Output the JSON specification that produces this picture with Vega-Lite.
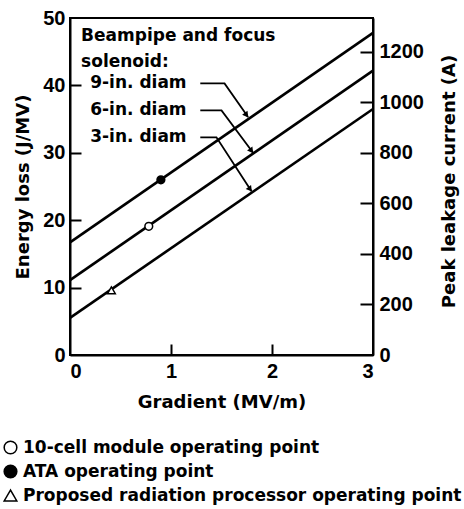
{
  "$schema": "https://vega.github.io/schema/vega-lite/v6.json",
  "width": 303,
  "height": 337,
  "autosize": {"type": "none"},
  "padding": {"left": 70, "top": 18, "right": 91, "bottom": 154},
  "background": "white",
  "config": {
    "view": {"stroke": "black", "strokeWidth": 2},
    "font": "DejaVu Sans",
    "axis": {
      "domainColor": "black", "domainWidth": 2, "tickColor": "black", "tickWidth": 2,
      "grid": false, "labelColor": "black", "titleColor": "black",
      "labelFont": "Liberation Sans", "labelFontSize": 20, "labelFontWeight": "bold",
      "titleFont": "DejaVu Sans", "titleFontSize": 18, "titleFontWeight": "bold"
    },
    "legend": {
      "orient": "none", "legendX": -68, "legendY": 421,
      "labelFont": "DejaVu Sans", "labelFontSize": 17, "labelFontWeight": "bold", "labelColor": "black",
      "symbolSize": 160, "symbolStrokeColor": "black", "symbolStrokeWidth": 1.5,
      "rowPadding": 5, "labelLimit": 0, "labelOffset": 4
    }
  },
  "datasets": {
    "lines": [
      {"diam": "9-in.", "gradient": 0, "energy": 16.7},
      {"diam": "9-in.", "gradient": 3, "energy": 47.8},
      {"diam": "6-in.", "gradient": 0, "energy": 11.1},
      {"diam": "6-in.", "gradient": 3, "energy": 42.2},
      {"diam": "3-in.", "gradient": 0, "energy": 5.5},
      {"diam": "3-in.", "gradient": 3, "energy": 36.5}
    ],
    "points": [
      {"type": "10-cell module operating point", "gradient": 0.78, "energy": 19.1},
      {"type": "ATA operating point", "gradient": 0.9, "energy": 26.0},
      {"type": "Proposed radiation processor operating point", "gradient": 0.41, "energy": 9.6}
    ],
    "labels": [
      {"text": "Beampipe and focus", "gradient": 0.11, "energy": 47.4},
      {"text": "solenoid:", "gradient": 0.11, "energy": 43.5},
      {"text": "9-in. diam", "gradient": 0.2, "energy": 40.3},
      {"text": "6-in. diam", "gradient": 0.2, "energy": 36.3},
      {"text": "3-in. diam", "gradient": 0.2, "energy": 32.3}
    ],
    "leaders": [
      {"diam": "9-in.", "order": 1, "gradient": 1.29, "energy": 40.3},
      {"diam": "9-in.", "order": 2, "gradient": 1.53, "energy": 40.3},
      {"diam": "9-in.", "order": 3, "gradient": 1.763, "energy": 35.3},
      {"diam": "6-in.", "order": 1, "gradient": 1.29, "energy": 36.3},
      {"diam": "6-in.", "order": 2, "gradient": 1.5, "energy": 36.3},
      {"diam": "6-in.", "order": 3, "gradient": 1.813, "energy": 30.0},
      {"diam": "3-in.", "order": 1, "gradient": 1.29, "energy": 32.3},
      {"diam": "3-in.", "order": 2, "gradient": 1.45, "energy": 32.3},
      {"diam": "3-in.", "order": 3, "gradient": 1.797, "energy": 24.3}
    ],
    "heads": [
      {"diam": "9-in.", "gradient": 1.742, "energy": 35.7},
      {"diam": "6-in.", "gradient": 1.791, "energy": 30.4},
      {"diam": "3-in.", "gradient": 1.778, "energy": 24.7}
    ],
    "current": [
      {"current": 0},
      {"current": 1200}
    ]
  },
  "layer": [
    {
      "layer": [
        {
          "data": {"name": "lines"},
          "mark": {"type": "line", "color": "black", "strokeWidth": 2.6},
          "encoding": {
            "x": {
              "field": "gradient", "type": "quantitative",
              "scale": {"domain": [0, 3], "nice": false, "zero": false},
              "axis": {"title": "Gradient (MV/m)", "values": [0, 1, 2, 3], "format": "d", "ticks": false, "labelPadding": 6, "titlePadding": 12}
            },
            "y": {
              "field": "energy", "type": "quantitative",
              "scale": {"domain": [0, 50], "nice": false},
              "axis": {"title": "Energy loss (J/MV)", "values": [0, 10, 20, 30, 40, 50], "format": "d", "ticks": false, "labelPadding": 5, "titleX": -38}
            },
            "detail": {"field": "diam"}
          }
        },
        {
          "data": {"name": "leaders"},
          "mark": {"type": "line", "color": "black", "strokeWidth": 1.8},
          "encoding": {
            "x": {
              "field": "gradient", "type": "quantitative",
              "axis": {"orient": "top", "offset": -337, "values": [1, 2], "labels": false, "domain": false, "title": null, "tickSize": 11}
            },
            "y": {
              "field": "energy", "type": "quantitative",
              "axis": {"orient": "right", "offset": -303, "values": [10, 20, 30, 40], "labels": false, "domain": false, "title": null, "tickSize": 11}
            },
            "detail": {"field": "diam"},
            "order": {"field": "order"}
          }
        },
        {
          "data": {"name": "heads"},
          "mark": {"type": "point", "shape": "triangle", "angle": 143, "size": 45, "filled": true, "color": "black", "opacity": 1},
          "encoding": {
            "x": {"field": "gradient", "type": "quantitative", "axis": null},
            "y": {"field": "energy", "type": "quantitative", "axis": null}
          }
        },
        {
          "data": {"name": "labels"},
          "mark": {"type": "text", "align": "left", "baseline": "middle", "font": "DejaVu Sans", "fontSize": 17, "fontWeight": "bold", "color": "black"},
          "encoding": {
            "x": {"field": "gradient", "type": "quantitative", "axis": null},
            "y": {"field": "energy", "type": "quantitative", "axis": null},
            "text": {"field": "text"}
          }
        },
        {
          "data": {"name": "points"},
          "mark": {"type": "point", "strokeWidth": 1.5, "size": 60, "opacity": 1},
          "encoding": {
            "x": {"field": "gradient", "type": "quantitative", "axis": null},
            "y": {"field": "energy", "type": "quantitative", "axis": null},
            "shape": {
              "field": "type", "type": "nominal", "title": null,
              "scale": {
                "domain": ["10-cell module operating point", "ATA operating point", "Proposed radiation processor operating point"],
                "range": ["circle", "circle", "triangle-up"]
              }
            },
            "fill": {
              "field": "type", "type": "nominal", "title": null,
              "scale": {
                "domain": ["10-cell module operating point", "ATA operating point", "Proposed radiation processor operating point"],
                "range": ["white", "black", "white"]
              }
            },
            "stroke": {
              "field": "type", "type": "nominal", "title": null,
              "scale": {
                "domain": ["10-cell module operating point", "ATA operating point", "Proposed radiation processor operating point"],
                "range": ["black", "black", "black"]
              }
            }
          }
        }
      ],
      "resolve": {"axis": {"x": "independent", "y": "independent"}}
    },
    {
      "data": {"name": "current"},
      "mark": {"type": "point", "opacity": 0},
      "encoding": {
        "y": {
          "field": "current", "type": "quantitative",
          "scale": {"domain": [0, 1333], "nice": false},
          "axis": {"orient": "right", "title": "Peak leakage current (A)", "values": [0, 200, 400, 600, 800, 1000, 1200], "format": "d", "ticks": false, "labelPadding": 6, "titleAngle": -90, "titleBaseline": "bottom", "titleX": 85, "titleY": 163}
        }
      }
    },
    {
      "data": {"name": "current"},
      "mark": {"type": "point", "opacity": 0},
      "encoding": {
        "y": {
          "field": "current", "type": "quantitative",
          "scale": {"domain": [0, 1333], "nice": false},
          "axis": {"orient": "left", "offset": -303, "values": [200, 400, 600, 800, 1000, 1200], "labels": false, "domain": false, "title": null, "tickSize": 13}
        }
      }
    }
  ],
  "resolve": {"scale": {"y": "independent"}}
}
